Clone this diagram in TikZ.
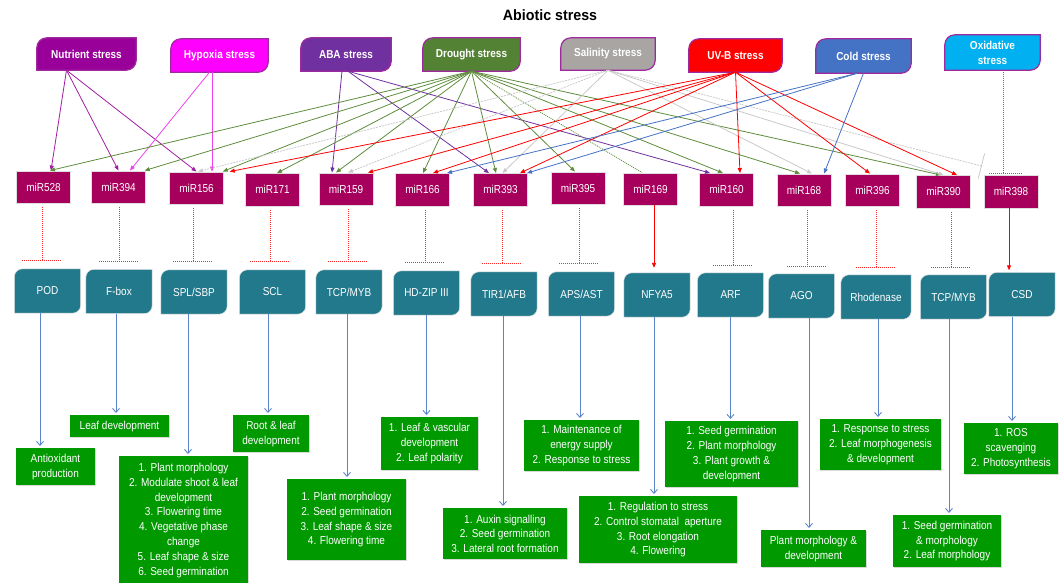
\documentclass[tikz,border=0pt]{standalone}
\usepackage{fontspec}
\setmainfont{Liberation Sans}[FakeStretch=0.87]
\newfontfamily\titlefont{Liberation Sans}[FakeStretch=0.95]
\usetikzlibrary{arrows.meta,backgrounds,shadows,calc}
\definecolor{nutrientc}{HTML}{990099}
\definecolor{nutrientl}{HTML}{A21DA2}
\definecolor{hypoxiac}{HTML}{FF00FF}
\definecolor{hypoxial}{HTML}{F040F0}
\definecolor{abac}{HTML}{7030A0}
\definecolor{droughtc}{HTML}{548235}
\definecolor{droughtl}{HTML}{5E8C3C}
\definecolor{salinityc}{HTML}{A8A5A3}
\definecolor{salinityl}{HTML}{C9C9C9}
\definecolor{uvbc}{HTML}{FF0000}
\definecolor{coldc}{HTML}{4472C4}
\definecolor{oxidativec}{HTML}{00B0F0}
\definecolor{leafrim}{HTML}{9E2A9E}
\definecolor{mirc}{HTML}{A6005C}
\definecolor{targetc}{HTML}{22798B}
\definecolor{rolec}{HTML}{009900}
\definecolor{rolearrow}{HTML}{5B84CB}
\newcommand{\leafshape}[2]{([yshift=-#2]#1.north west) arc[start angle=180, end angle=90, radius=#2] -- (#1.north east) -- ([yshift=#2]#1.south east) arc[start angle=0, end angle=-90, radius=#2] -- (#1.south west) -- cycle}

\begin{document}
\begin{tikzpicture}[
			x=1pt, y=1pt,
			every node/.style={font=\fontsize{11.5}{14.8}\selectfont},
			stress/.style={text=white, font=\fontsize{11.5}{15}\selectfont\bfseries, align=center,
				minimum width=95pt, minimum height=33pt, inner sep=0pt},
			stress shape/.style={draw=leafrim, line width=1.2pt},
			mir/.style={fill=mirc, draw=gray!25, text=white, minimum width=54pt, minimum height=32.5pt, inner sep=0pt},
			target/.style={text=white, minimum width=66pt, minimum height=44pt, inner sep=0pt},
			target shape/.style={fill=targetc, draw=white!80!gray, line width=0.6pt},
			role/.style={fill=rolec, text=white, align=center, anchor=north, inner sep=2pt,
				drop shadow={shadow xshift=1.2pt, shadow yshift=-1.2pt, opacity=0.3}},
			tip/.style={-{Triangle[length=5pt, width=4pt]}},
			nutrient line/.style={draw=nutrientl, line width=0.8pt, tip},
			hypoxia line/.style={draw=hypoxial, line width=0.8pt, tip},
			aba line/.style={draw=abac, line width=0.8pt, tip},
			drought line/.style={draw=droughtl, line width=0.8pt, tip},
			drought dotted/.style={draw=droughtl, line width=0.8pt, dash pattern=on 1pt off 1pt},
			salinity line/.style={draw=salinityl, line width=0.8pt, tip},
			salinity dashed/.style={draw=salinityl, line width=0.8pt, dash pattern=on 2pt off 1pt, tip},
			uvb line/.style={draw=uvbc, line width=0.8pt, tip},
			cold line/.style={draw=coldc, line width=0.8pt, tip},
			oxidative line/.style={draw=coldc, line width=0.9pt, dash pattern=on 1pt off 1pt},
			inhibit/.style={draw=uvbc!85, line width=0.8pt, dash pattern=on 1pt off 1pt},
			induce/.style={draw=uvbc, line width=0.9pt, -{Triangle[length=5pt, width=4pt]}},
			role arrow/.style={draw=rolearrow, line width=0.9pt, shorten >=2pt,
				-{Straight Barb[length=4pt, width=7pt]}}
			]
			\useasboundingbox (0,0) rectangle (1063,-582);
			
			\node[font=\titlefont\fontsize{15}{18}\selectfont\bfseries] (title) at (550,-15) {Abiotic stress};
			
			\node[stress, minimum width=99pt, minimum height=32pt] (nutrient) at (86.5,-54) {Nutrient stress};
			\node[stress, minimum width=97pt] (hypoxia) at (219.5,-55.5) {Hypoxia stress};
			\node[stress, minimum width=90pt] (aba) at (346,-54.5) {ABA stress};
			\node[stress, minimum width=97pt] (drought) at (471.5,-54.5) {Drought stress};
			\node[stress, minimum width=94pt, minimum height=32pt] (salinity) at (608,-54) {Salinity stress};
			\node[stress, minimum width=93pt] (uvb) at (735.5,-55.5) {UV-B stress};
			\node[stress, minimum height=34pt] (cold) at (863.5,-56) {Cold stress};
			\node[stress, minimum height=35pt] (oxidative) at (992.5,-52.5) {Oxidative\\stress};
			
			\node[mir] (mir528) at (43.5,-187) {miR528};
			\node[mir] (mir394) at (118.5,-187) {miR394};
			\node[mir] (mir156) at (196.5,-188) {miR156};
			\node[mir] (mir171) at (272.5,-189.5) {miR171};
			\node[mir] (mir159) at (346,-189) {miR159};
			\node[mir] (mir166) at (422.5,-189.5) {miR166};
			\node[mir] (mir393) at (500.5,-189.5) {miR393};
			\node[mir] (mir395) at (578,-188) {miR395};
			\node[mir] (mir169) at (650.5,-189) {miR169};
			\node[mir] (mir160) at (726.5,-189.5) {miR160};
			\node[mir] (mir168) at (804,-190) {miR168};
			\node[mir] (mir396) at (872.5,-190) {miR396};
			\node[mir] (mir390) at (943.5,-191.5) {miR390};
			\node[mir] (mir398) at (1011,-191.5) {miR398};
			
			\node[target] (pod) at (47.5,-291) {POD};
			\node[target] (fbox) at (119,-291.5) {F-box};
			\node[target] (splsbp) at (194,-292) {SPL/SBP};
			\node[target] (scl) at (272.5,-292) {SCL};
			\node[target] (tcpmyb) at (349,-292) {TCP/MYB};
			\node[target] (hdzip) at (426.5,-293) {HD-ZIP III};
			\node[target] (tirafb) at (504,-294) {TIR1/AFB};
			\node[target] (apsast) at (581.5,-294) {APS/AST};
			\node[target] (nfya) at (657,-295) {NFYA5};
			\node[target] (arf) at (730.5,-295) {ARF};
			\node[target] (ago) at (801.5,-296) {AGO};
			\node[target, minimum width=70pt] (rhodenase) at (876,-297) {Rhodenase};
			\node[target] (tcpmybb) at (953.5,-297) {TCP/MYB};
			\node[target] (csd) at (1022,-294.5) {CSD};
			
			\node[role, minimum width=79pt, minimum height=37pt] (podrole) at (55.5,-448) {Antioxidant\\production};
			\node[role, minimum width=99pt, minimum height=22pt] (fboxrole) at (119.5,-415) {Leaf development};
			\node[role, minimum width=129pt, inner ysep=7pt, text depth=118pt] (splrole) at (183.5,-456) {1. Plant morphology\\2. Modulate shoot \& leaf\\development\\3. Flowering time\\4. Vegetative phase\\change\\5. Leaf shape \& size\\6. Seed germination};
			\node[role, minimum width=76pt, minimum height=37pt] (sclrole) at (271,-415) {Root \& leaf\\development};
			\node[role, minimum width=119pt, minimum height=81pt] (tcprole) at (346.5,-479) {1. Plant morphology\\2. Seed germination\\3. Leaf shape \& size\\4. Flowering time};
			\node[role, minimum width=97pt, minimum height=53pt] (hdziprole) at (429.5,-417) {1. Leaf \& vascular\\development\\2. Leaf polarity};
			\node[role, minimum width=124pt, minimum height=51pt] (tirrole) at (505,-508) {1. Auxin signalling\\2. Seed germination\\3. Lateral root formation};
			\node[role, minimum width=115pt, minimum height=51pt] (apsrole) at (581.5,-420) {1. Maintenance of\\energy supply\\2. Response to stress};
			\node[role, minimum width=158pt, minimum height=67pt] (nfyarole) at (658,-496) {1. Regulation to stress\\2. Control stomatal\ \ aperture\\3. Root elongation\\4. Flowering};
			\node[role, minimum width=133pt, minimum height=66pt] (arfrole) at (731.5,-421) {1. Seed germination\\2. Plant morphology\\3. Plant growth \&\\development};
			\node[role, minimum width=105pt, minimum height=37pt] (agorole) at (813.5,-530) {Plant morphology \&\\development};
			\node[role, minimum width=121pt, minimum height=51pt] (rhodrole) at (880.5,-419) {1. Response to stress\\2. Leaf morphogenesis\\\& development};
			\node[role, minimum width=108pt, minimum height=52pt] (tcpbrole) at (947,-515) {1. Seed germination\\\& morphology\\2. Leaf morphology};
			\node[role, minimum width=94pt, minimum height=51pt] (csdrole) at (1011,-423) {1. ROS\\scavenging\\2. Photosynthesis};
			
			\begin{scope}[on background layer]
				\filldraw[stress shape, fill=nutrientc] \leafshape{nutrient}{10pt};
				\filldraw[stress shape, fill=hypoxiac] \leafshape{hypoxia}{10pt};
				\filldraw[stress shape, fill=abac] \leafshape{aba}{10pt};
				\filldraw[stress shape, fill=droughtc] \leafshape{drought}{10pt};
				\filldraw[stress shape, fill=salinityc] \leafshape{salinity}{10pt};
				\filldraw[stress shape, fill=uvbc] \leafshape{uvb}{10pt};
				\filldraw[stress shape, fill=coldc] \leafshape{cold}{10pt};
				\filldraw[stress shape, fill=oxidativec] \leafshape{oxidative}{10pt};
				
				\filldraw[target shape] \leafshape{pod}{8pt};
				\filldraw[target shape] \leafshape{fbox}{8pt};
				\filldraw[target shape] \leafshape{splsbp}{8pt};
				\filldraw[target shape] \leafshape{scl}{8pt};
				\filldraw[target shape] \leafshape{tcpmyb}{8pt};
				\filldraw[target shape] \leafshape{hdzip}{8pt};
				\filldraw[target shape] \leafshape{tirafb}{8pt};
				\filldraw[target shape] \leafshape{apsast}{8pt};
				\filldraw[target shape] \leafshape{nfya}{8pt};
				\filldraw[target shape] \leafshape{arf}{8pt};
				\filldraw[target shape] \leafshape{ago}{8pt};
				\filldraw[target shape] \leafshape{rhodenase}{8pt};
				\filldraw[target shape] \leafshape{tcpmybb}{8pt};
				\filldraw[target shape] \leafshape{csd}{8pt};
			\end{scope}
			
			\draw[nutrient line] ([xshift=-20]nutrient.south) -- ([xshift=7.5]mir528.north);
			\draw[nutrient line] ([xshift=-20]nutrient.south) -- (mir394.north);
			\draw[nutrient line] ([xshift=-20]nutrient.south) -- (mir156.north);
			
			\draw[hypoxia line] ([xshift=-10]hypoxia.south) -- ([xshift=11.5]mir394.north);
			\draw[hypoxia line] ([xshift=-7.5]hypoxia.south) -- ([xshift=15.5]mir156.north);
			
			\draw[aba line] ([xshift=-4]aba.south) -- ([xshift=-14]mir159.north);
			\draw[aba line] ([xshift=2]aba.south) -- ([xshift=-11.5]mir393.north);
			\draw[aba line] ([xshift=2]aba.south) -- ([xshift=-16.5]mir160.north);
			
			\draw[drought line] (drought.south) -- ([xshift=6.5]mir528.north);
			\draw[drought line] (drought.south) -- ([xshift=-1]mir394.north east);
			\draw[drought line] (drought.south) -- ([xshift=-1]mir156.north east);
			\draw[drought line] (drought.south) -- ([xshift=4.5]mir171.north);
			\draw[drought line] (drought.south) -- ([xshift=-10]mir159.north);
			\draw[drought line] (drought.south) -- ([xshift=0.5]mir166.north);
			\draw[drought line] (drought.south) -- ([xshift=-4.5]mir393.north);
			\draw[drought line] (drought.south) -- ([xshift=-3]mir395.north);
			\draw[drought line] (drought.south) -- ([xshift=-3.5]mir160.north);
			\draw[drought line] (drought.south) -- ([xshift=-4]mir168.north);
			\draw[drought line] (drought.south) -- ([xshift=-2.5]mir390.north);
			\draw[drought dotted] (drought.south) -- ([xshift=-8.5]mir169.north);
			
			\draw[salinity dashed] (salinity.south) -- ([xshift=1.5]mir156.north);
			\draw[salinity dashed] (salinity.south) -- ([xshift=2]mir159.north);
			\draw[salinity line] (salinity.south) -- ([xshift=2]mir393.north);
			\draw[salinity line] (salinity.south) -- ([xshift=8]mir168.north);
			\draw[salinity line] (salinity.south) -- (mir390.north);
			\draw[salinity dashed, -{Bar[width=26pt]}] (salinity.south) -- ([xshift=-2,yshift=9]mir398.north west);
			
			\draw[uvb line] (uvb.south) -- ([xshift=6]mir156.north east);
			\draw[uvb line] (uvb.south) -- ([xshift=22]mir159.north);
			\draw[uvb line] (uvb.south) -- ([xshift=10.5]mir166.north);
			\draw[uvb line] (uvb.south) -- ([xshift=19.5]mir393.north);
			\draw[uvb line] (uvb.south) -- ([xshift=13.5]mir160.north);
			\draw[uvb line] (uvb.south) -- ([xshift=-2.5]mir396.north);
			\draw[uvb line] (uvb.south) -- ([xshift=13.5]mir390.north);
			
			\draw[cold line] ([xshift=-6]cold.south) -- ([xshift=24.5]mir166.north);
			\draw[cold line] ([xshift=-6]cold.south) -- ([xshift=26.5]mir393.north);
			\draw[cold line] (cold.south) -- ([xshift=20]mir168.north);
			
			\coordinate (oxbar) at ([xshift=-8,yshift=2]mir398.north);
			\draw[oxidative line] (oxbar |- oxidative.south) -- (oxbar);
			\draw[oxidative line] ([xshift=-14]oxbar) -- ([xshift=20]oxbar);
			
			\coordinate (podbar) at ([xshift=-5.5,yshift=8]pod.north);
			\coordinate (fboxbar) at ([yshift=8]fbox.north);
			\coordinate (splbar) at ([xshift=-1,yshift=8]splsbp.north);
			\coordinate (sclbar) at ([xshift=-2.5,yshift=8]scl.north);
			\coordinate (tcpbar) at ([xshift=-1,yshift=8]tcpmyb.north);
			\coordinate (hdzipbar) at ([xshift=-1.5,yshift=8]hdzip.north);
			\coordinate (tirbar) at ([xshift=-2,yshift=8]tirafb.north);
			\coordinate (apsbar) at ([xshift=-2.5,yshift=8]apsast.north);
			\coordinate (arfbar) at ([xshift=2.5,yshift=7]arf.north);
			\coordinate (agobar) at ([xshift=5.5,yshift=7]ago.north);
			\coordinate (rhodbar) at ([yshift=7]rhodenase.north);
			\coordinate (tcpbbar) at ([xshift=-2.5,yshift=7]tcpmybb.north);
			
			\draw[inhibit] ([yshift=-4]podbar |- mir528.south) -- (podbar);
			\draw[inhibit] ([xshift=-20]podbar) -- ([xshift=20]podbar);
			\draw[inhibit] ([yshift=-4]fboxbar |- mir394.south) -- (fboxbar);
			\draw[inhibit] ([xshift=-20]fboxbar) -- ([xshift=20]fboxbar);
			\draw[inhibit] ([yshift=-4]splbar |- mir156.south) -- (splbar);
			\draw[inhibit] ([xshift=-20]splbar) -- ([xshift=20]splbar);
			\draw[inhibit] ([yshift=-4]sclbar |- mir171.south) -- (sclbar);
			\draw[inhibit] ([xshift=-20]sclbar) -- ([xshift=20]sclbar);
			\draw[inhibit] ([yshift=-4]tcpbar |- mir159.south) -- (tcpbar);
			\draw[inhibit] ([xshift=-20]tcpbar) -- ([xshift=20]tcpbar);
			\draw[inhibit] ([yshift=-4]hdzipbar |- mir166.south) -- (hdzipbar);
			\draw[inhibit] ([xshift=-20]hdzipbar) -- ([xshift=20]hdzipbar);
			\draw[inhibit] ([yshift=-4]tirbar |- mir393.south) -- (tirbar);
			\draw[inhibit] ([xshift=-20]tirbar) -- ([xshift=20]tirbar);
			\draw[inhibit] ([yshift=-4]apsbar |- mir395.south) -- (apsbar);
			\draw[inhibit] ([xshift=-20]apsbar) -- ([xshift=20]apsbar);
			\draw[inhibit] ([yshift=-4]arfbar |- mir160.south) -- (arfbar);
			\draw[inhibit] ([xshift=-20]arfbar) -- ([xshift=20]arfbar);
			\draw[inhibit] ([yshift=-4]agobar |- mir168.south) -- (agobar);
			\draw[inhibit] ([xshift=-20]agobar) -- ([xshift=20]agobar);
			\draw[inhibit] ([yshift=-4]rhodbar |- mir396.south) -- (rhodbar);
			\draw[inhibit] ([xshift=-20]rhodbar) -- ([xshift=20]rhodbar);
			\draw[inhibit] ([yshift=-4]tcpbbar |- mir390.south) -- (tcpbbar);
			\draw[inhibit] ([xshift=-20]tcpbbar) -- ([xshift=20]tcpbbar);
			
			\draw[induce] ([xshift=3.5]mir169.south) -- ($(mir169.south |- nfya.north)+(3.5,5)$);
			\draw[induce] ([xshift=-2]mir398.south) -- ($(mir398.south |- csd.north)+(-2,2)$);
			
			\draw[role arrow] ([xshift=-7.5]pod.south) -- ($(pod.south |- podrole.north)+(-7.5,0)$);
			\draw[role arrow] ([xshift=-3]fbox.south) -- ($(fbox.south |- fboxrole.north)+(-3,0)$);
			\draw[role arrow] ([xshift=-6]splsbp.south) -- ($(splsbp.south |- splrole.north)+(-6,0)$);
			\draw[role arrow] ([xshift=-4.5]scl.south) -- ($(scl.south |- sclrole.north)+(-4.5,0)$);
			\draw[role arrow] ([xshift=-2]tcpmyb.south) -- ($(tcpmyb.south |- tcprole.north)+(-2,0)$);
			\draw[role arrow] (hdzip.south) -- (hdzip.south |- hdziprole.north);
			\draw[role arrow] ([xshift=-1]tirafb.south) -- ($(tirafb.south |- tirrole.north)+(-1,0)$);
			\draw[role arrow] ([xshift=-1.5]apsast.south) -- ($(apsast.south |- apsrole.north)+(-1.5,0)$);
			\draw[role arrow] ([xshift=-3]nfya.south) -- ($(nfya.south |- nfyarole.north)+(-3,0)$);
			\draw[role arrow] (arf.south) -- (arf.south |- arfrole.north);
			\draw[role arrow] ([xshift=7.5]ago.south) -- ($(ago.south |- agorole.north)+(7.5,0)$);
			\draw[role arrow] ([xshift=2]rhodenase.south) -- ($(rhodenase.south |- rhodrole.north)+(2,0)$);
			\draw[role arrow] ([xshift=-4.5]tcpmybb.south) -- ($(tcpmybb.south |- tcpbrole.north)+(-4.5,0)$);
			\draw[role arrow] ([xshift=-10]csd.south) -- ($(csd.south |- csdrole.north)+(-10,0)$);
			
		\end{tikzpicture}
\end{document}
